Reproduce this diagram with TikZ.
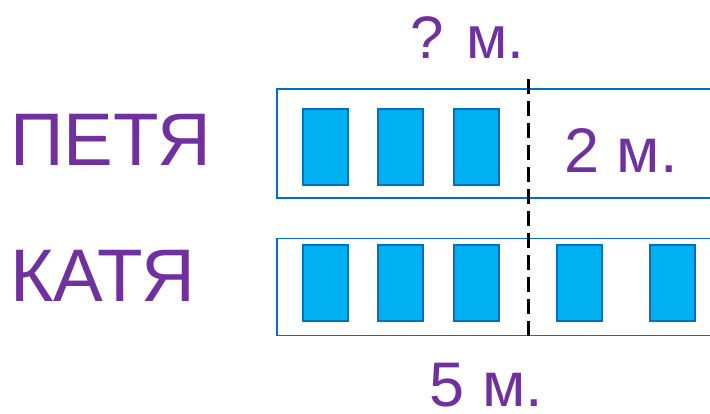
\documentclass[tikz,border=0pt]{standalone}
\usepackage{fontspec}
\setmainfont{Liberation Sans}
\usetikzlibrary{positioning}
\definecolor{txtviolet}{HTML}{7030A0}
\definecolor{framebl}{HTML}{0070C0}
\definecolor{tilebl}{HTML}{00B0F0}
\begin{document}
\begin{tikzpicture}[x=1pt,y=-1pt,
		row/.style={draw=framebl,line width=1.6pt,rectangle,inner sep=0pt},
		tile/.style={draw=framebl,fill=tilebl,line width=2pt,rectangle,inner sep=0pt,minimum width=45pt,minimum height=76pt},
		lab/.style={text=txtviolet,inner sep=0pt,font=\fontsize{74.5}{74.5}\selectfont},
		small/.style={text=txtviolet,inner sep=0pt,font=\fontsize{63}{63}\selectfont}]
		\useasboundingbox (0,0) rectangle (710,414);
		\node (rowp) [row,minimum width=440pt,minimum height=109pt] at (497,143.5) {};
		\node (rowk) [row,minimum width=440pt,minimum height=97pt] at (497,287) {};
		\node (pa) [tile] at (325,147) {};
		\node (pb) [tile] at (400.5,147) {};
		\node (pc) [tile] at (476,147) {};
		\node (ka) [tile] at (325,283) {};
		\node (kb) [tile] at (400.5,283) {};
		\node (kc) [tile] at (476,283) {};
		\node (kd) [tile] at (579.5,283.5) {};
		\node (ke) [tile] at (672.5,283.5) {};
		\node (pet) [lab,anchor=west] at (10,140) {ПЕТЯ};
		\node (kat) [lab,anchor=west] at (10,276) {КАТЯ};
		\node (que) [small,font=\fontsize{60}{60}\selectfont] at (467.5,38) {? м.};
		\node (two) [small] at (621,151) {2 м.};
		\node (fiv) [small] at (486.5,385) {5 м.};
		\coordinate (top) at (528.5,79);
		\coordinate (bot) at (528.5,338);
		\draw [line width=2.2pt,dash pattern=on 15pt off 7pt] (top) -- (bot);
	\end{tikzpicture}
\end{document}
